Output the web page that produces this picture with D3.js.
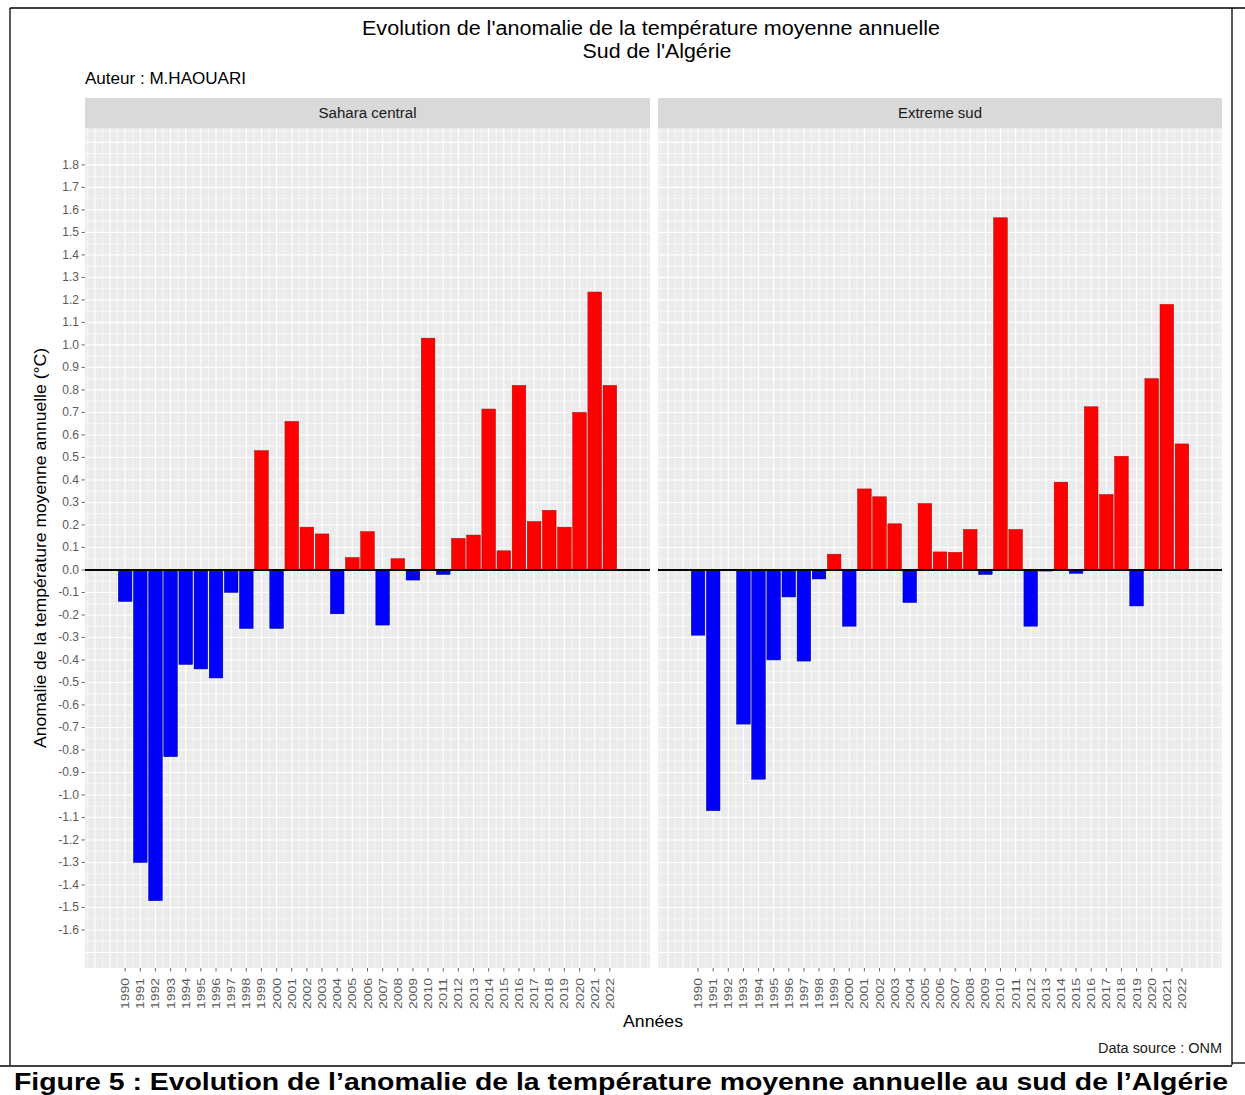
<!DOCTYPE html>
<html>
<head>
<meta charset="utf-8">
<script src="https://cdn.jsdelivr.net/npm/d3@7"></script>
<style>
  body { margin: 0; background: #fff; }
  text { font-family: "Liberation Sans", Arial, sans-serif; }
</style>
</head>
<body>
<div id="chart"></div>
<script>
// Années (catégories)
const years = [1990, 1991, 1992, 1993, 1994, 1995, 1996, 1997, 1998, 1999,
               2000, 2001, 2002, 2003, 2004, 2005, 2006, 2007, 2008, 2009,
               2010, 2011, 2012, 2013, 2014, 2015, 2016, 2017, 2018, 2019,
               2020, 2021, 2022];

// Anomalies (°C)
const saharaCentral = [-0.14, -1.30, -1.47, -0.83, -0.42, -0.44, -0.48, -0.10, -0.26, 0.53,
                       -0.26, 0.66, 0.19, 0.16, -0.195, 0.055, 0.17, -0.245, 0.05, -0.045,
                       1.03, -0.02, 0.14, 0.155, 0.715, 0.085, 0.82, 0.215, 0.265, 0.19,
                       0.70, 1.235, 0.82];

const extremeSud = [-0.29, -1.07, null, -0.685, -0.93, -0.40, -0.12, -0.405, -0.04, 0.07,
                    -0.25, 0.36, 0.325, 0.205, -0.145, 0.295, 0.08, 0.078, 0.18, -0.02,
                    1.565, 0.18, -0.25, -0.005, 0.39, -0.015, 0.725, 0.335, 0.505, -0.16,
                    0.85, 1.18, 0.56];

const panelNames = ["Sahara central", "Extreme sud"];
const yTicks = [-1.6, -1.5, -1.4, -1.3, -1.2, -1.1, -1.0, -0.9, -0.8, -0.7, -0.6, -0.5,
                -0.4, -0.3, -0.2, -0.1, 0.0, 0.1, 0.2, 0.3, 0.4, 0.5, 0.6, 0.7, 0.8,
                0.9, 1.0, 1.1, 1.2, 1.3, 1.4, 1.5, 1.6, 1.7, 1.8];

const W = 1245, H = 1095;
const svg = d3.select("#chart").append("svg")
    .attr("width", W)
    .attr("height", H);

// Cadre de la figure
const frame = svg.append("g").attr("stroke", "#000").attr("stroke-width", 1.3).attr("fill", "none");
frame.append("line").attr("x1", 10).attr("y1", 8).attr("x2", 1245).attr("y2", 8);
frame.append("line").attr("x1", 10).attr("y1", 8).attr("x2", 10).attr("y2", 1065);
frame.append("line").attr("x1", 1232).attr("y1", 8).attr("x2", 1232).attr("y2", 1065);
frame.append("line").attr("x1", 0).attr("y1", 1066).attr("x2", 1232).attr("y2", 1066);
frame.append("line").attr("x1", 1232).attr("y1", 1063).attr("x2", 1245).attr("y2", 1063);

// Texte avec largeur imposée
function addText(x, y, str, size, width, anchor, color) {
    return svg.append("text")
        .attr("x", x).attr("y", y)
        .attr("text-anchor", anchor || "start")
        .attr("fill", color || "#000")
        .style("font-size", size + "px")
        .attr("textLength", width)
        .attr("lengthAdjust", "spacingAndGlyphs")
        .text(str);
}

// Titres
addText(651, 35, "Evolution de l'anomalie de la température moyenne annuelle", 20, 578, "middle");
addText(657, 58, "Sud de l'Algérie", 20, 149, "middle");
addText(85, 84, "Auteur : M.HAOUARI", 16, 161, "start");

// Dimensions des panneaux
const panelTop = 128, panelBottom = 968, stripTop = 98;
const panels = [
    { x0: 85, x1: 650, values: saharaCentral, name: panelNames[0], labelW: 98 },
    { x0: 658, x1: 1222, values: extremeSud, name: panelNames[1], labelW: 84 }
];

const y = d3.scaleLinear()
    .domain([-1.769, 1.964])
    .range([panelBottom, panelTop]);

const fmt = v => (v < -1e-9 ? "-" : "") + Math.abs(v).toFixed(1);

panels.forEach((p, pi) => {
    const x = d3.scaleLinear()
        .domain([years[0] - 2.65, years[years.length - 1] + 2.65])
        .range([p.x0, p.x1]);

    const g = svg.append("g");

    // Fond du panneau
    g.append("rect")
        .attr("x", p.x0).attr("y", panelTop)
        .attr("width", p.x1 - p.x0).attr("height", panelBottom - panelTop)
        .attr("fill", "#EBEBEB");

    // Grille mineure
    const minorY = yTicks.map(t => t + 0.05).concat([-1.65, -1.7, 1.85, 1.9, 1.95]);
    g.selectAll(".minorY").data(minorY).enter().append("line")
        .attr("x1", p.x0).attr("x2", p.x1)
        .attr("y1", d => y(d)).attr("y2", d => y(d))
        .attr("stroke", "#fff").attr("stroke-width", 0.6);
    const minorX = years.map(d => d + 0.5).concat([years[0] - 0.5, years[0] - 1.5, years[0] - 2.5, 2023.5, 2024.5]);
    g.selectAll(".minorX").data(minorX).enter().append("line")
        .attr("x1", d => x(d)).attr("x2", d => x(d))
        .attr("y1", panelTop).attr("y2", panelBottom)
        .attr("stroke", "#fff").attr("stroke-width", 0.6);

    // Grille majeure
    g.selectAll(".majorY").data(yTicks.concat([-1.7, 1.9])).enter().append("line")
        .attr("x1", p.x0).attr("x2", p.x1)
        .attr("y1", d => y(d)).attr("y2", d => y(d))
        .attr("stroke", "#fff").attr("stroke-width", 1.1);
    g.selectAll(".majorX").data(years.concat([1988, 1989, 2023, 2024])).enter().append("line")
        .attr("x1", d => x(d)).attr("x2", d => x(d))
        .attr("y1", panelTop).attr("y2", panelBottom)
        .attr("stroke", "#fff").attr("stroke-width", 1.1);

    // Bandeau du panneau
    g.append("rect")
        .attr("x", p.x0).attr("y", stripTop)
        .attr("width", p.x1 - p.x0).attr("height", panelTop - stripTop)
        .attr("fill", "#D9D9D9");
    g.append("text")
        .attr("x", (p.x0 + p.x1) / 2).attr("y", 118)
        .attr("text-anchor", "middle")
        .style("font-size", "14px")
        .attr("textLength", p.labelW)
        .attr("lengthAdjust", "spacingAndGlyphs")
        .attr("fill", "#1a1a1a")
        .text(p.name);

    // Barres
    const data = years.map((yr, i) => ({ year: yr, value: p.values[i] }))
        .filter(d => d.value !== null);
    const bw = (x(1991) - x(1990)) * 0.9;
    g.selectAll(".bar").data(data).enter().append("rect")
        .attr("x", d => x(d.year) - bw / 2)
        .attr("y", d => y(Math.max(0, d.value)))
        .attr("width", bw)
        .attr("height", d => Math.max(0.8, Math.abs(y(d.value) - y(0))))
        .attr("fill", d => d.value >= 0 ? "#FF0000" : "#0000FF")
        .attr("stroke", d => d.value >= 0 ? "#b00000" : "#00008a")
        .attr("stroke-width", 0.5);

    // Ligne zéro
    g.append("line")
        .attr("x1", p.x0).attr("x2", p.x1)
        .attr("y1", y(0)).attr("y2", y(0))
        .attr("stroke", "#000").attr("stroke-width", 2);

    // Axe X
    const xAxis = g.append("g").attr("transform", `translate(0,${panelBottom})`);
    xAxis.selectAll("line").data(years).enter().append("line")
        .attr("x1", d => x(d)).attr("x2", d => x(d))
        .attr("y1", 0).attr("y2", 3.5)
        .attr("stroke", "#444").attr("stroke-width", 0.8);
    xAxis.selectAll("text").data(years).enter().append("text")
        .attr("transform", d => `translate(${x(d) + 4},${10}) rotate(-90)`)
        .attr("text-anchor", "end")
        .attr("textLength", 31)
        .attr("lengthAdjust", "spacingAndGlyphs")
        .style("font-size", "11px")
        .attr("fill", "#5a5a5a")
        .text(d => d);

    // Axe Y (panneau de gauche seulement)
    if (pi === 0) {
        const yAxis = g.append("g");
        yAxis.selectAll("line").data(yTicks).enter().append("line")
            .attr("x1", p.x0 - 3.5).attr("x2", p.x0)
            .attr("y1", d => y(d)).attr("y2", d => y(d))
            .attr("stroke", "#444").attr("stroke-width", 0.8);
        yAxis.selectAll("text").data(yTicks).enter().append("text")
            .attr("x", p.x0 - 6)
            .attr("y", d => y(d) + 4)
            .attr("text-anchor", "end")
            .style("font-size", "12px")
            .attr("fill", "#5a5a5a")
            .text(d => fmt(d));
    }
});

// Titres des axes
svg.append("text")
    .attr("transform", `translate(46,548) rotate(-90)`)
    .attr("text-anchor", "middle")
    .style("font-size", "17px")
    .attr("textLength", 400)
    .attr("lengthAdjust", "spacingAndGlyphs")
    .text("Anomalie de la température moyenne annuelle (°C)");
addText(653, 1027, "Années", 17, 60, "middle");
addText(1222, 1053, "Data source : ONM", 14, 124, "end", "#1a1a1a");

// Légende de la figure
svg.append("text")
    .attr("x", 14).attr("y", 1090)
    .style("font-size", "23px")
    .style("font-weight", "bold")
    .attr("textLength", 1214)
    .attr("lengthAdjust", "spacingAndGlyphs")
    .text("Figure 5 : Evolution de l’anomalie de la température moyenne annuelle au sud de l’Algérie");
</script>
</body>
</html>
